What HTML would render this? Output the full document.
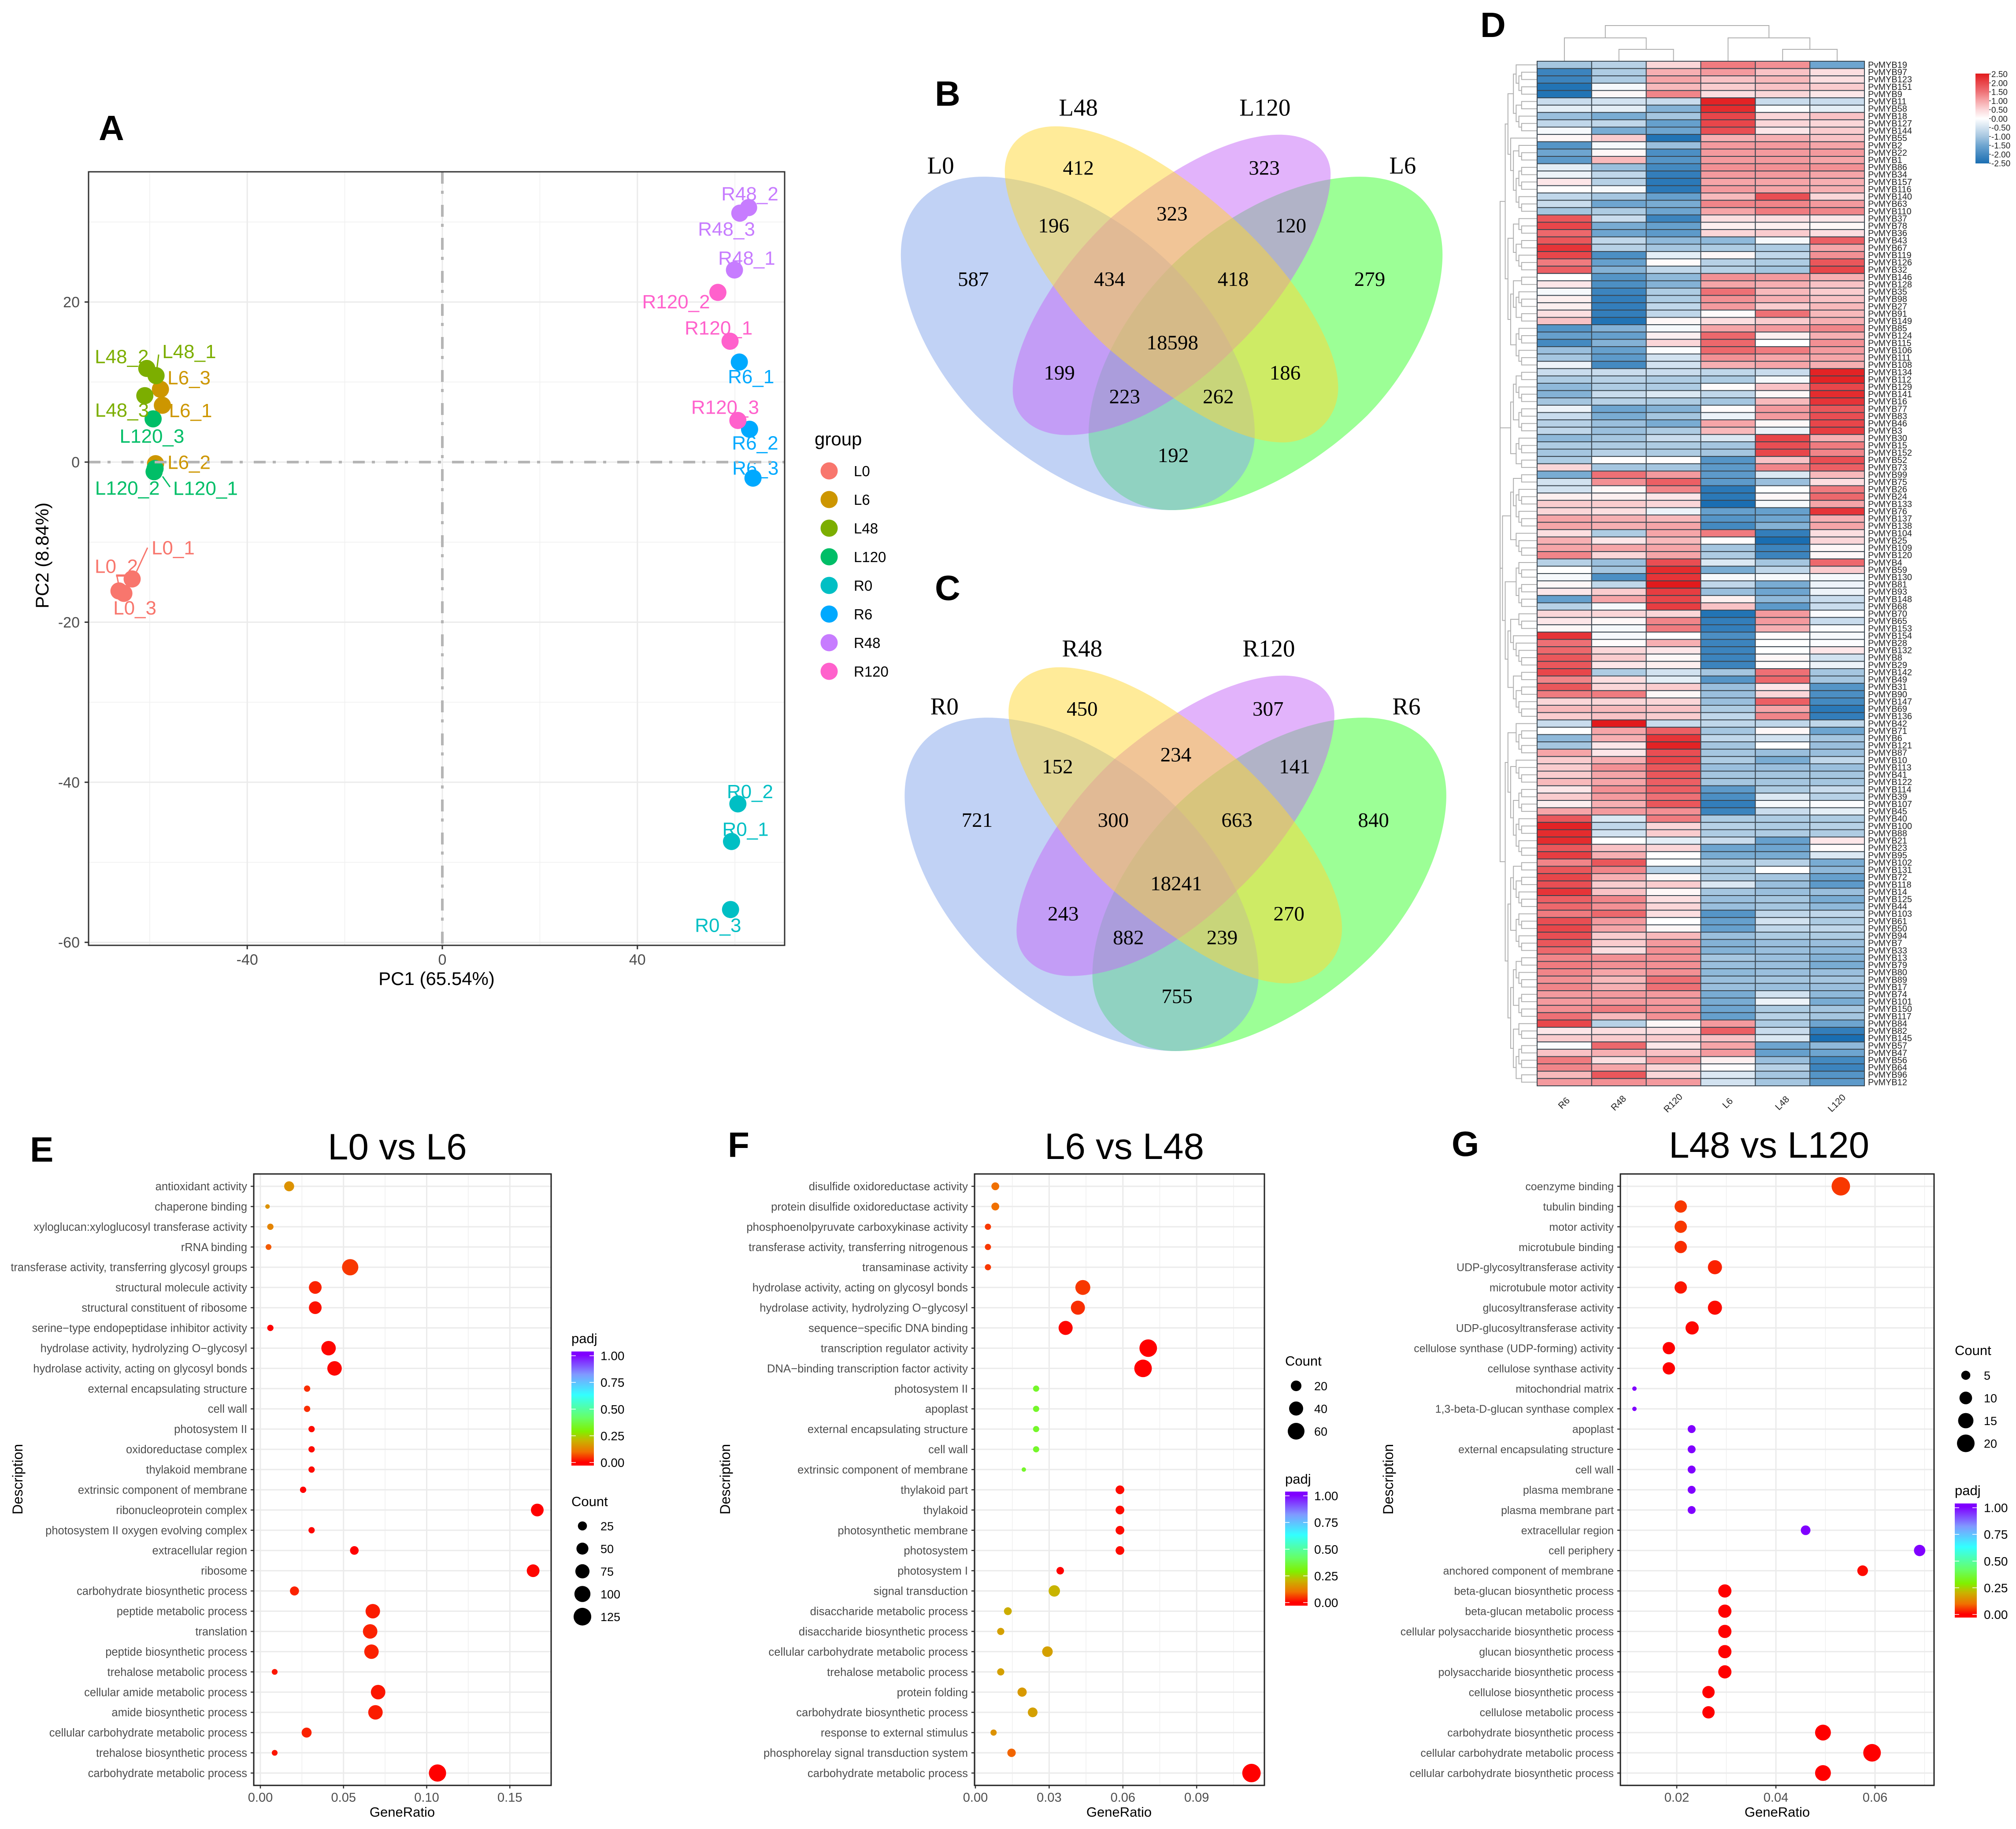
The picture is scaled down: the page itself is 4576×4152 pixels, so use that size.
<!DOCTYPE html>
<html lang="en">
<head>
<meta charset="utf-8">
<title>Transcriptome multi-panel figure</title>
<style>
html,body{margin:0;padding:0;background:#fff;}
svg{display:block;font-family:"Liberation Sans",sans-serif;}
</style>
</head>
<body>
<svg id="fig" xmlns="http://www.w3.org/2000/svg" width="4576" height="4152" viewBox="0 0 4576 4152">
<defs>
<linearGradient id="padjGrad" x1="0" y1="1" x2="0" y2="0">
<stop offset="0" stop-color="#ff0000"/><stop offset="0.03" stop-color="#ff0000"/><stop offset="0.12" stop-color="#f07000"/><stop offset="0.22" stop-color="#c8b400"/><stop offset="0.3" stop-color="#80f000"/><stop offset="0.42" stop-color="#66ff66"/><stop offset="0.62" stop-color="#33ffff"/><stop offset="0.8" stop-color="#8099ff"/><stop offset="0.97" stop-color="#8000ff"/><stop offset="1" stop-color="#8000ff"/>
</linearGradient>
<linearGradient id="heatGrad" x1="0" y1="1" x2="0" y2="0">
<stop offset="0" stop-color="#1a6eb2"/><stop offset="0.2" stop-color="#6ea5d0"/><stop offset="0.3" stop-color="#a5c6e0"/><stop offset="0.4" stop-color="#d2e2f0"/><stop offset="0.5" stop-color="#ffffff"/><stop offset="0.6" stop-color="#fbd6d8"/><stop offset="0.7" stop-color="#f6a5a8"/><stop offset="0.8" stop-color="#ee7075"/><stop offset="0.9" stop-color="#e8464a"/><stop offset="1" stop-color="#e21a1c"/>
</linearGradient>
</defs>
<text x="224" y="318" font-size="80" font-weight="bold">A</text>
<text x="2122" y="240" font-size="80" font-weight="bold">B</text>
<text x="2122" y="1362" font-size="80" font-weight="bold">C</text>
<text x="3360" y="84" font-size="80" font-weight="bold">D</text>
<text x="68" y="2637" font-size="80" font-weight="bold">E</text>
<text x="1652" y="2626" font-size="80" font-weight="bold">F</text>
<text x="3295" y="2624" font-size="80" font-weight="bold">G</text>
<text x="744" y="2632" font-size="83.5">L0 vs L6</text>
<text x="2371" y="2631" font-size="83.5">L6 vs L48</text>
<text x="3788" y="2628" font-size="83.5">L48 vs L120</text>
<g id="panelA"></g>
<g id="vennB"></g>
<g id="vennC"></g>
<g id="panelD"></g>
<g id="panelE"></g>
<g id="panelF"></g>
<g id="panelG"></g>
</svg>
<script>
/* ---------- PCA data ---------- */
const pcaSamples = ['L0_1','L0_2','L0_3','L6_1','L6_2','L6_3','L48_1','L48_2','L48_3','L120_1','L120_2','L120_3','R0_1','R0_2','R0_3','R6_1','R6_2','R6_3','R48_1','R48_2','R48_3','R120_1','R120_2','R120_3'];
const pcaPC1 = [-63.6,-66.3,-65.3,-57.4,-58.8,-57.8,-58.7,-60.6,-61,-58.9,-59.1,-59.3,59.3,60.6,59.1,60.9,63,63.7,59.9,62.8,61,59,56.5,60.6];
const pcaPC2 = [-14.6,-16.1,-16.4,7.1,-0.2,9.1,10.8,11.7,8.3,-0.8,-1.2,5.4,-47.4,-42.7,-55.9,12.5,4.1,-2,24,31.8,31.1,15.1,21.2,5.2];
const pcaGroups = ['L0','L6','L48','L120','R0','R6','R48','R120'];
const pcaXTicks = [-40,0,40];
const pcaYTicks = [-60,-40,-20,0,20];

/* ---------- Venn data ---------- */
const vennLNames = ['L0','L48','L120','L6'];
const vennLCounts = [587,412,323,279,196,323,120,434,418,18598,199,186,223,262,192];
const vennRNames = ['R0','R48','R120','R6'];
const vennRCounts = [721,450,307,840,152,234,141,300,663,18241,243,270,882,239,755];

/* ---------- Heatmap data ---------- */
const heatCols = ['R6','R48','R120','L6','L48','L120'];
const heatGenes = ['PvMYB19','PvMYB97','PvMYB123','PvMYB151','PvMYB9','PvMYB11','PvMYB58','PvMYB18','PvMYB127','PvMYB144','PvMYB55','PvMYB2','PvMYB22','PvMYB1','PvMYB86','PvMYB34','PvMYB157','PvMYB116','PvMYB140','PvMYB63','PvMYB110','PvMYB37','PvMYB78','PvMYB36','PvMYB43','PvMYB67','PvMYB119','PvMYB126','PvMYB32','PvMYB146','PvMYB128','PvMYB35','PvMYB98','PvMYB27','PvMYB91','PvMYB149','PvMYB85','PvMYB124','PvMYB115','PvMYB106','PvMYB111','PvMYB108','PvMYB134','PvMYB112','PvMYB129','PvMYB141','PvMYB16','PvMYB77','PvMYB83','PvMYB46','PvMYB3','PvMYB30','PvMYB15','PvMYB152','PvMYB52','PvMYB73','PvMYB99','PvMYB75','PvMYB26','PvMYB24','PvMYB133','PvMYB76','PvMYB137','PvMYB138','PvMYB104','PvMYB25','PvMYB109','PvMYB120','PvMYB4','PvMYB59','PvMYB130','PvMYB81','PvMYB93','PvMYB148','PvMYB68','PvMYB70','PvMYB65','PvMYB153','PvMYB154','PvMYB28','PvMYB132','PvMYB8','PvMYB29','PvMYB142','PvMYB49','PvMYB31','PvMYB90','PvMYB147','PvMYB69','PvMYB136','PvMYB42','PvMYB71','PvMYB6','PvMYB121','PvMYB87','PvMYB10','PvMYB113','PvMYB41','PvMYB122','PvMYB114','PvMYB39','PvMYB107','PvMYB45','PvMYB40','PvMYB100','PvMYB88','PvMYB21','PvMYB23','PvMYB95','PvMYB102','PvMYB131','PvMYB72','PvMYB118','PvMYB14','PvMYB125','PvMYB44','PvMYB103','PvMYB61','PvMYB50','PvMYB94','PvMYB7','PvMYB33','PvMYB13','PvMYB79','PvMYB80','PvMYB89','PvMYB17','PvMYB74','PvMYB101','PvMYB150','PvMYB117','PvMYB84','PvMYB82','PvMYB145','PvMYB57','PvMYB47','PvMYB56','PvMYB64','PvMYB96','PvMYB12'];
const heatValues = [
[-1,-.8,.5,1.4,1.2,-1.5],[-2.1,-.9,.9,1.1,.7,.4],[-2.1,-.9,1,.7,.8,.4],[-2.4,-.1,.8,.6,.7,.6],[-2.4,.1,1.3,.4,.5,.3],
[-.6,-.5,-.6,2.4,-.6,-.6],[-.3,-.3,-1.3,2.3,-.05,-.3],[-1.1,-1.4,-1,2,.5,.7],[-.7,-.7,-1.6,2,.5,.5],[-.1,-1.4,-1.5,1.9,.3,.6],
[.1,.6,-2.4,.9,.9,.7],[-1.8,-.1,-1.1,1.1,1.1,1],[-1.5,.1,-1.9,1.1,1.1,1.1],[-1.7,.8,-1.8,1.1,1.1,1],[-.3,-1.1,-2,1.2,1.2,1.2],
[-.2,-.7,-2.2,1.1,1.1,1],[.3,-.8,-2.3,1,1,.9],[.02,-.1,-2.3,1.1,1,.9],[-.7,-1,-1.6,.8,1.9,.5],[-.6,-1.5,-1.4,1.3,1.3,1.1],
[-1,-.9,-1.5,1,1.4,1.3],[1.8,-.6,-2.1,.4,.4,.3],[2,-1.4,-1.6,.2,.2,.1],[1.6,-1.5,-1.7,.5,.6,.4],[1.8,-.7,-1.2,-1.2,-.1,1.7],
[2.2,-.8,-1,-.9,-.9,1],[2,-1.9,-.3,.1,-.7,1.2],[1.4,-1.6,.05,-.8,-.9,1.8],[1.7,-1.3,-.7,-.8,-1,2],[0,-1.8,-1.2,1.2,1.1,.9],
[.3,-1.9,-1.3,1,.9,.7],[-.1,-2.1,-.9,1.5,.8,.6],[.2,-2.2,-.9,1.2,.9,.7],[.2,-2.2,-.7,1.1,.6,.8],[.4,-2.2,-.7,.05,1.5,.8],
[.7,-2.4,.1,.4,.6,.9],[-1.8,-1.3,-.1,1,1.1,1.3],[-1.6,-1.6,.2,1.6,.2,.9],[-2,-1.3,.5,1.6,0,1.2],[-1.1,-1.6,-.05,1.6,1.4,1.1],
[-1,-1.7,-.5,1.2,1,1],[-.2,-2,-.5,.9,1,.9],[-.6,-.6,-.6,-.7,-.6,2.4],[-.9,-.8,-.9,-.9,-.1,2.4],[-1.2,-.9,-.9,.05,.7,2],
[-1.3,-.6,-.4,-.7,.1,2.3],[-1,-.8,-.9,-1,.8,2.2],[-.2,-1.5,-1.3,.05,1.1,1.8],[-.6,-1.4,-1,-.2,1.1,1.9],[-.8,-1.1,-1.4,1,.1,2],
[-.7,-1.1,-.9,.8,-.2,2.1],[-1.2,-1,-.6,-.4,2,.9],[-.9,-.9,-.9,-1,1.9,1.4],[-1,-.8,-.9,-1,2,1.3],[-.9,.02,.02,-1.8,.7,1.9],
[.5,-1,-1,-1.7,1.3,1.7],[-1.4,1.5,1.1,-1.7,-.4,.8],[-.5,1.2,1.7,-1.7,-1.1,.4],[-.5,.1,1.3,-2.3,-.02,1.4],[.2,.2,.3,-2.3,.1,1.6],
[.6,.6,.5,-2.5,-.1,1],[.5,.4,-.2,-1.6,-1.6,2.2],[1,.9,.8,-1.8,-1.5,.9],[1,.9,1,-2,-1.3,1],[.4,-.9,1,1.4,-2.2,.4],
[.9,.3,.8,.02,-2.5,.5],[1,1,1,-1,-2.1,.1],[1.3,.5,1,-.9,-2.1,.1],[-.8,-1.1,1.9,-.4,-1,1.6],[0,-1,2.3,-1.4,-.7,.6],
[-.1,-1.9,2.2,-.1,-.1,-.1],[.1,-.7,2.5,-.7,-1.4,-.2],[.3,.6,2.1,-1.1,-1.5,-.2],[-1.6,1,2,.2,-1.2,-.6],[-.8,-.1,2.1,.7,-1.7,-.6],
[.5,.5,.5,-2.4,1.1,-.05],[.3,.1,1.3,-2.2,1.1,-.6],[.1,-.1,1.4,-2.2,.9,-.05],[2.2,-.1,0,-1.9,.05,-.1],[1.5,.05,.9,-2.1,0,-.05],
[1.6,.5,.3,-2.1,0,.3],[1.8,.6,.1,-2.1,.1,-.5],[1.8,.3,.2,-2.1,.05,-.2],[2,-.9,-.5,-1,1.5,-1],[1.3,.4,-.3,-1.8,1.6,-1],
[1.8,.5,.6,-1.1,.3,-1.8],[1.4,1.4,.1,-1.1,.5,-1.9],[.5,.5,.5,-1.1,1.7,-2],[.8,.8,.7,-.9,1,-2.3],[.6,.7,.6,-.7,1.3,-2.2],
[-.6,2.5,-.6,-.7,-.7,-.7],[0,1,1.7,-1,.1,-1.5],[-1.2,.9,2.2,-.7,-.5,-1],[-1,.3,2.4,-1,0,-1.1],[1,.3,1.9,-1,-1.1,-1.1],
[.6,.9,2,-.9,-1.4,-.7],[.6,1.2,1.8,-1.1,-1.1,-1.1],[.6,1,1.8,-1,-1,-1],[.8,1,1.7,-1,-1,-1],[.3,1.2,1.7,-1.7,-.9,-.6],
[.6,1.1,1.5,-1.9,-.4,-.8],[.2,.9,1.8,-2.2,-.1,-.05],[1,1.1,1.2,-2.1,-.6,-.3],[1.8,-.4,1.4,-.9,-.9,-.9],[2.4,-.7,.5,-.8,-.9,-.8],
[2.3,-.5,.6,-.9,-.9,-.9],[2.3,0,-.3,-.6,-1.6,.3],[1.8,.7,.5,-1.5,-1.5,.05],[2.1,.9,0,-1.4,-1.4,-.4],[1.3,1.8,-.02,-.8,-.8,-1.4],
[1.8,1.3,-.8,-1,0,-1.2],[2,.9,.1,-.9,-1,-1.6],[1.9,.6,.6,-.4,-1.1,-1.7],[2.2,.7,.1,-1,-1.1,-1.1],[1.7,1.3,.4,-1.1,-1,-1.4],
[1.6,1.2,.5,-1.1,-1,-1.2],[1.4,1.6,.4,-1.8,-.7,-.7],[1.9,1.1,0,-1.6,-.5,-.9],[2,1,.1,-1.6,-.7,-.7],[1.9,.6,.8,-1.1,-.9,-.9],
[1.8,.6,1.1,-1.3,-1.1,-1.1],[1.6,.4,1.2,-1.3,-1.1,-1.2],[1.3,1.2,1.2,-1,-1.1,-1.3],[1.4,1.2,1.2,-1.1,-1.1,-1.4],[1.3,1,1.2,-1.2,-1.1,-1.1],
[1.2,.8,1.5,-1.1,-1,-1],[1.3,.9,1.5,-1.1,-1.1,-1.1],[1.1,1.1,1.1,-1.4,-.5,-1.2],[1.1,1.1,1.1,-1.4,-.2,-1.4],[1.2,1.4,1.2,-1.5,-.9,-1],
[1.5,.8,1.2,-1.6,-.8,-1],[2,-.8,.1,1.1,-.9,-1.5],[.3,.4,.4,1.7,-.6,-2.2],[.6,.6,.6,.7,-.4,-2.5],[-.05,1.6,.3,1,-1.5,-1.2],
[.7,.9,.7,1.1,-1.6,-1.5],[1.4,.4,1.1,.2,-1.1,-2],[1.3,1,.5,.02,-.8,-2.1],[.8,1.8,.5,-.4,-1,-1.8],[1.1,1.2,1.1,-.5,-1,-1.7]
];
const heatLegendTicks = ['2.50','2.00','1.50','1.00','0.50','0.00','-0.50','-1.00','-1.50','-2.00','-2.50'];

/* ---------- Dot plot E data ---------- */
const eTerms = ['antioxidant activity','chaperone binding','xyloglucan:xyloglucosyl transferase activity','rRNA binding','transferase activity, transferring glycosyl groups','structural molecule activity','structural constituent of ribosome','serine\u2212type endopeptidase inhibitor activity','hydrolase activity, hydrolyzing O\u2212glycosyl','hydrolase activity, acting on glycosyl bonds','external encapsulating structure','cell wall','photosystem II','oxidoreductase complex','thylakoid membrane','extrinsic component of membrane','ribonucleoprotein complex','photosystem II oxygen evolving complex','extracellular region','ribosome','carbohydrate biosynthetic process','peptide metabolic process','translation','peptide biosynthetic process','trehalose metabolic process','cellular amide metabolic process','amide biosynthetic process','cellular carbohydrate metabolic process','trehalose biosynthetic process','carbohydrate metabolic process'];
const eRatio = [.0173,.0043,.006,.0049,.054,.033,.033,.006,.041,.0446,.0281,.0281,.0308,.0308,.0308,.0257,.1665,.0308,.0565,.164,.0205,.0676,.066,.0668,.0086,.0708,.0692,.0278,.0086,.1065];
const eCount = [32,3,9,7,104,58,58,9,79,79,9,9,9,9,9,9,58,9,22,58,25,79,79,79,7,79,79,32,7,118];
const ePadj = [.15,.15,.13,.08,.05,.03,.015,0,.005,.005,.04,.04,.01,.01,.01,0,0,.005,0,.005,.03,.025,.03,.03,.02,.02,.025,.03,.02,0];
const eTicks = [0,.05,.1,.15];
const eMinor = [.025,.075,.125];
const eCountLegend = [25,50,75,100,125];

/* ---------- Dot plot F data ---------- */
const fTerms = ['disulfide oxidoreductase activity','protein disulfide oxidoreductase activity','phosphoenolpyruvate carboxykinase activity','transferase activity, transferring nitrogenous','transaminase activity','hydrolase activity, acting on glycosyl bonds','hydrolase activity, hydrolyzing O\u2212glycosyl','sequence\u2212specific DNA binding','transcription regulator activity','DNA\u2212binding transcription factor activity','photosystem II','apoplast','external encapsulating structure','cell wall','extrinsic component of membrane','thylakoid part','thylakoid','photosynthetic membrane','photosystem','photosystem I','signal transduction','disaccharide metabolic process','disaccharide biosynthetic process','cellular carbohydrate metabolic process','trehalose metabolic process','protein folding','carbohydrate biosynthetic process','response to external stimulus','phosphorelay signal transduction system','carbohydrate metabolic process'];
const fRatio = [.0081,.0081,.0051,.0051,.0051,.0437,.0417,.0367,.0703,.0682,.0247,.0247,.0247,.0247,.0197,.0588,.0588,.0588,.0588,.0345,.0321,.0132,.0103,.0293,.0103,.019,.0233,.0074,.0147,.1123];
const fCount = [9,9,4.5,4.5,4.5,46,40,40,67,67,4.5,4.5,4.5,4.5,1.4,12,12,12,12,8,24,9,7,20,7,14,16,4.5,11,75];
const fPadj = [.1,.1,.05,.05,.05,.05,.04,.005,0,0,.33,.33,.33,.33,.33,.01,.01,.01,.01,0,.2,.19,.17,.17,.17,.16,.17,.15,.09,0];
const fTicks = [0,.03,.06,.09];
const fMinor = [.015,.045,.075,.105];
const fCountLegend = [20,40,60];

/* ---------- Dot plot G data ---------- */
const gTerms = ['coenzyme binding','tubulin binding','motor activity','microtubule binding','UDP-glycosyltransferase activity','microtubule motor activity','glucosyltransferase activity','UDP-glucosyltransferase activity','cellulose synthase (UDP-forming) activity','cellulose synthase activity','mitochondrial matrix','1,3-beta-D-glucan synthase complex','apoplast','external encapsulating structure','cell wall','plasma membrane','plasma membrane part','extracellular region','cell periphery','anchored component of membrane','beta-glucan biosynthetic process','beta-glucan metabolic process','cellular polysaccharide biosynthetic process','glucan biosynthetic process','polysaccharide biosynthetic process','cellulose biosynthetic process','cellulose metabolic process','carbohydrate biosynthetic process','cellular carbohydrate metabolic process','cellular carbohydrate biosynthetic process'];
const gRatio = [.0531,.0208,.0208,.0208,.0277,.0208,.0277,.0231,.0184,.0184,.01146,.01146,.023,.023,.023,.023,.023,.046,.069,.0575,.0297,.0297,.0297,.0297,.0297,.0264,.0264,.0495,.0594,.0495];
const gCount = [22,9.5,9.5,9.5,12.6,9.5,12.6,11,9.5,9.5,1,1,3.7,3.7,3.7,3.7,3.7,5.7,8,7,11,11,11,11,11,9.5,9.5,16,20,16];
const gPadj = [.05,.05,.05,.04,.03,.02,.01,.005,0,0,1,1,1,1,1,1,1,1,1,.01,0,0,0,0,0,0,0,0,0,0];
const gTicks = [.02,.04,.06];
const gMinor = [.01,.03,.05,.07];
const gCountLegend = [5,10,15,20];

const padjTicks = ['0.00','0.25','0.50','0.75','1.00'];

/* ---------- helpers ---------- */
const NS = 'http://www.w3.org/2000/svg';
function mk(parent, tag, attrs){
  const e = document.createElementNS(NS, tag);
  for(const k in attrs){ e.setAttribute(k, attrs[k]); }
  parent.appendChild(e);
  return e;
}
function tx(parent, x, y, str, size, fill, anchor, extra){
  const e = mk(parent, 'text', Object.assign({x:x, y:y, 'font-size':size, fill:fill||'#000', 'text-anchor':anchor||'start'}, extra||{}));
  e.textContent = str;
  return e;
}
function lerpStops(stops, v){
  if(v<=stops[0][0]) return stops[0][1];
  for(let i=1;i<stops.length;i++){
    if(v<=stops[i][0]){
      const a=stops[i-1], b=stops[i], t=(v-a[0])/(b[0]-a[0]);
      const c=[0,1,2].map(j=>Math.round(a[1][j]+(b[1][j]-a[1][j])*t));
      return c;
    }
  }
  return stops[stops.length-1][1];
}
const PADJ_STOPS=[[0,[255,0,0]],[.1,[240,112,0]],[.2,[200,180,0]],[.28,[128,240,0]],[.4,[102,255,102]],[.62,[51,255,255]],[.8,[128,153,255]],[1,[128,0,255]]];
const HEAT_STOPS=[[-2.5,[26,110,178]],[-1.5,[110,165,208]],[-1,[165,198,224]],[-.5,[210,226,240]],[0,[255,255,255]],[.5,[251,214,216]],[1,[246,165,168]],[1.5,[238,112,117]],[2,[232,70,74]],[2.5,[226,26,28]]];
function rgb(c){return 'rgb('+c[0]+','+c[1]+','+c[2]+')';}

/* ---------- Panel A ---------- */
(function(){
  const g=document.getElementById('panelA');
  const L=201,R=1781,T=390,B=2146;
  const xs=v=>1004+11.07*v, ys=v=>1049-18.17*v;
  const colors={L0:'#F8766D',L6:'#CD9600',L48:'#7CAE00',L120:'#00BE67',R0:'#00BFC4',R6:'#00A9FF',R48:'#C77CFF',R120:'#FF61CC'};
  const labelLayout={L0_1:[44,-56,[[10,-17],[35,-71]]],L0_2:[-55,-41,[[15,-36],[-5,-36],[-1,-16]]],L0_3:[-24,48],L6_1:[15,27],L6_2:[27,12],L6_3:[16,-11],L48_1:[14,-40,[[2,-16],[6,-48]]],L48_2:[-118,-12],L48_3:[-113,48],L120_1:[41,60,[[17,18],[34,42]]],L120_2:[-134,52],L120_3:[-76,54],R0_1:[-21,-13],R0_2:[-25,-13],R0_3:[-81,51],R6_1:[-26,48],R6_2:[-40,46],R6_3:[-47,-8],R48_1:[-37,-12],R48_2:[-62,-16],R48_3:[-95,51],R120_1:[-103,-15],R120_2:[-172,36],R120_3:[-106,-15]};
  const bg=mk(g,'rect',{x:L,y:T,width:R-L,height:B-T,fill:'#fff'});
  
  
  [-60,-20,20,60].forEach(v=>{
    if(xs(v)<L||xs(v)>R) return;
    const l=mk(g,'line',{x1:xs(v),x2:xs(v),y1:T,y2:B,stroke:'#efefef','stroke-width':1.5});
    
    
  });
  [-50,-30,-10,10,30].forEach(v=>{
    const l=mk(g,'line',{x1:L,x2:R,y1:ys(v),y2:ys(v),stroke:'#efefef','stroke-width':1.5});
    
    
  });
  pcaXTicks.forEach(v=>{
    const l=mk(g,'line',{x1:xs(v),x2:xs(v),y1:T,y2:B,stroke:'#ebebeb','stroke-width':3});
    
    
    const t=mk(g,'line',{x1:xs(v),x2:xs(v),y1:B,y2:B+9,stroke:'#333','stroke-width':3});
    
    
    const s=tx(g,xs(v),B+44,String(v),34,'#4d4d4d','middle');
    
    
  });
  pcaYTicks.forEach(v=>{
    const l=mk(g,'line',{x1:L,x2:R,y1:ys(v),y2:ys(v),stroke:'#ebebeb','stroke-width':3});
    
    
    const t=mk(g,'line',{x1:L-9,x2:L,y1:ys(v),y2:ys(v),stroke:'#333','stroke-width':3});
    
    
    const s=tx(g,L-20,ys(v)+12,String(v),34,'#4d4d4d','end');
    
    
  });
  const vz=mk(g,'line',{x1:xs(0),x2:xs(0),y1:T,y2:B,stroke:'#b5b5b5','stroke-width':6,'stroke-dasharray':'27 16 7 25'});
  
  
  pcaSamples.forEach((name,i)=>{
    const grp=name.split('_')[0], col=colors[grp];
    const cx=xs(pcaPC1[i]), cy=ys(pcaPC2[i]), lay=labelLayout[name];
    if(lay[2]){
      const pl=mk(g,'polyline',{points:lay[2].map(p=>(cx+p[0])+','+(cy+p[1])).join(' '),fill:'none',stroke:col,'stroke-width':3});
      
      
    }
  });
  pcaSamples.forEach((name,i)=>{
    const grp=name.split('_')[0], col=colors[grp];
    const c=mk(g,'circle',{cx:xs(pcaPC1[i]),cy:ys(pcaPC2[i]),r:19.5,fill:col});
    
    
  });
  pcaSamples.forEach((name,i)=>{
    const grp=name.split('_')[0], col=colors[grp], lay=labelLayout[name];
    const s=tx(g,xs(pcaPC1[i])+lay[0],ys(pcaPC2[i])+lay[1],name,44,col,'start');
    
    
  });
  const hz=mk(g,'line',{x1:L,x2:R,y1:ys(0),y2:ys(0),stroke:'#b5b5b5','stroke-width':6,'stroke-dasharray':'27 16 7 25'});
  
  
  const box=mk(g,'rect',{x:L,y:T,width:R-L,height:B-T,fill:'none',stroke:'#333','stroke-width':3});
  
  
  const xt=tx(g,991,2236,'PC1 (65.54%)',42,'#000','middle');
  
  
  const yt=tx(g,110,1261,'PC2 (8.84%)',42,'#000','middle',{transform:'rotate(-90 110 1261)'});
  
  
  const lt=tx(g,1849,1011,'group',42,'#000','start');
  
  
  pcaGroups.forEach((n,i)=>{
    const y=1069+65*i;
    const c=mk(g,'circle',{cx:1882,cy:y,r:19.5,fill:colors[n]});
    
    
    const s=tx(g,1938,y+12,n,33,'#000','start');
    
    
  });
})();

/* ---------- Panels B and C (Venn) ---------- */
function drawVenn(host, names, counts, ox, oy){
  const shapes=mk(host,'g',{transform:'translate('+(2000+ox)+','+(150+oy)+') scale(.861,.7015)'});
  const P={
    green:'M1262,358 C1102,358 912,470 766,645 C632,810 547,1020 547,1190 C547,1340 652,1437 766,1437 C932,1437 1132,1310 1282,1130 C1402,980 1480,770 1480,610 C1480,460 1402,358 1262,358 Z',
    blue:'M270,358 C430,358 620,470 766,645 C900,810 985,1020 985,1190 C985,1340 880,1437 766,1437 C600,1437 400,1310 250,1130 C130,980 52,770 52,610 C52,460 130,358 270,358 Z',
    purple:'M1050,222 C930,222 770,320 607,490 C450,670 347,900 347,1050 C347,1140 410,1194 490,1194 C620,1194 780,1100 930,915 C1090,730 1185,490 1185,350 C1185,270 1130,222 1050,222 Z',
    yellow:'M460,195 C600,195 770,320 925,490 C1090,670 1205,900 1205,1040 C1205,1150 1130,1218 1060,1218 C940,1218 780,1100 600,915 C450,750 326,490 326,340 C326,250 380,195 460,195 Z'
  };
  const cols={green:'#39ff2d',blue:'#83a5eb',purple:'#c567f7',yellow:'#ffd733'};
  ['green','blue','purple','yellow'].forEach(k=>{
    const p=mk(shapes,'path',{d:P[k],fill:cols[k],'fill-opacity':.5});
    
    
  });
  const X=z=>2000+ox+z*.861, Y=z=>150+oy+z*.7015;
  const family='"Liberation Serif",serif';
  const namePos=[[157,322],[520,135],[1012,135],[1375,322]];
  names.forEach((n,i)=>{
    const s=tx(host,X(namePos[i][0]),Y(namePos[i][1])+18,n,55,'#000','middle',{'font-family':family});
    
    
  });
  const numPos=[[243,690],[520,330],[1010,330],[1288,690],[455,517],[767,478],[1080,517],[602,690],[928,690],[768,895],[470,993],[1065,993],[642,1070],[889,1070],[770,1260]];
  counts.forEach((n,i)=>{
    const s=tx(host,X(numPos[i][0]),Y(numPos[i][1])+15,String(n),47,'#000','middle',{'font-family':family});
    
    
  });
}
drawVenn(document.getElementById('vennB'),vennLNames,vennLCounts,0,0);
drawVenn(document.getElementById('vennC'),vennRNames,vennRCounts,8.6,1228);

/* ---------- Panel D ---------- */
(function(){
  const g=document.getElementById('panelD');
  const L=3489,T=139,cw=123.83,rh=16.614;
  const n=heatGenes.length;
  const treeString='((((x((xx)(xx)))((xx)(x(xx))))(x((x(xx))(((xx)(xx))(x(xx))))))(((x(xx))((xx)(x(xx))))(((xx)((x(xx))(xx)))((x(xx))(x(xx))))))'
   +'|((((((xx)(x(xx)))((xx)(xx)))((x(xx))(xx)))'
   +'((((xx)((x(xx))(x(xx))))(x(x(xx))))(((x(xx))((xx)(xx)))(((x(xx))(x(x(x(xx)))))((xx)((xx)(x(xx))))))))'
   +'(((x((xx)(xx)))((x(x(xx)))(((xx)(xx))((x(xx))(x(xx))))))'
   +'((((xx)((xx)(x(xx))))((x(xx))(x(xx))))'
   +'((((xx)(x(xx)))((xx)(xx)))((x(xx))(((xx)(xx))(xx)))))))';
  function parse(s){
    let i=0;
    function node(){
      if(s[i]==='x'){i++;return null;}
      i++; const kids=[];
      while(s[i]!==')'){kids.push(node());}
      i++; return kids;
    }
    return node();
  }
  const parts=treeString.split('|');
  const tree=[parse(parts[0]),parse(parts[1])];
  let leaf=0;
  const dendro=mk(g,'g',{fill:'none',stroke:'#b0b0b0','stroke-width':2});
  
  
  function walk(t){
    if(t===null){const y=T+rh*(leaf+.5);leaf++;return {x:L,y:y,h:0};}
    const a=walk(t[0]), b=walk(t[1]);
    const h=Math.max(a.h,b.h)+1;
    const x=L-Math.min(84,29+6.2*h);
    const p=mk(dendro,'path',{d:'M'+a.x+','+a.y+'H'+x+'V'+b.y+'H'+b.x});
    
    
    return {x:x,y:(a.y+b.y)/2,h:h};
  }
  walk(tree);
  const colTree=mk(g,'path',{fill:'none',stroke:'#b0b0b0','stroke-width':2,d:(function(){
    const c=i=>L+cw*(i+.5), yr=58,y2=86,y3=112;
    const m23=(c(1)+c(2))/2, m56=(c(4)+c(5))/2, a=(c(0)+m23)/2, b=(c(3)+m56)/2;
    return 'M'+c(1)+','+T+'V'+y3+'H'+c(2)+'V'+T+'M'+c(4)+','+T+'V'+y3+'H'+c(5)+'V'+T+
      'M'+c(0)+','+T+'V'+y2+'H'+m23+'V'+y3+'M'+c(3)+','+T+'V'+y2+'H'+m56+'V'+y3+
      'M'+a+','+y2+'V'+yr+'H'+b+'V'+y2;
  })()});
  
  
  heatValues.forEach((row,r)=>{
    row.forEach((v,c)=>{
      const cell=mk(g,'rect',{x:L+c*cw,y:T+r*rh,width:cw,height:rh,fill:rgb(lerpStops(HEAT_STOPS,v)),stroke:'#3a4650','stroke-width':2});
      
      
    });
    const s=tx(g,4240,T+r*rh+15,heatGenes[r],20,'#222','start');
    
    
  });
  heatCols.forEach((name,i)=>{
    const x=L+cw*(i+.5)+4, y=T+n*rh+44;
    const s=tx(g,x,y,name,21,'#222','middle',{transform:'rotate(-45 '+x+' '+y+')'});
    
    
  });
  const bar=mk(g,'rect',{x:4484,y:167,width:31,height:204,fill:'url(#heatGrad)'});
  
  
  heatLegendTicks.forEach((t,i)=>{
    const y=168+i*20.25;
    const tk=mk(g,'line',{x1:4515,x2:4519,y1:y,y2:y,stroke:'#444','stroke-width':1.5});
    
    
    const s=tx(g,4520,y+7,t,19,'#222','start');
    
    
  });
})();

/* ---------- Dot plots ---------- */
function drawDot(g,terms,ratio,count,padj,ticks,minor,cfg){
  const T=2665,B=4053,y0=2693,dy=45.93;
  const xs=cfg.xs, rs=cfg.rs;
  minor.forEach(v=>{
    const l=mk(g,'line',{x1:xs(v),x2:xs(v),y1:T,y2:B,stroke:'#efefef','stroke-width':1.5});
    
    
  });
  ticks.forEach(v=>{
    const l=mk(g,'line',{x1:xs(v),x2:xs(v),y1:T,y2:B,stroke:'#ebebeb','stroke-width':3});
    
    
    const t=mk(g,'line',{x1:xs(v),x2:xs(v),y1:B,y2:B+7,stroke:'#333','stroke-width':2.5});
    
    
    const s=tx(g,xs(v),4090,v.toFixed(2),29,'#4d4d4d','middle');
    
    
  });
  terms.forEach((term,i)=>{
    const y=y0+i*dy;
    const l=mk(g,'line',{x1:cfg.L,x2:cfg.R,y1:y,y2:y,stroke:'#ebebeb','stroke-width':3});
    
    
    const t=mk(g,'line',{x1:cfg.L-7,x2:cfg.L,y1:y,y2:y,stroke:'#333','stroke-width':2.5});
    
    
    const s=tx(g,cfg.L-15,y+9,term,cfg.labelSize,'#4d4d4d','end');
    
    
  });
  terms.forEach((term,i)=>{
    const c=mk(g,'circle',{cx:xs(ratio[i]),cy:y0+i*dy,r:rs(count[i]),fill:rgb(lerpStops(PADJ_STOPS,padj[i]))});
    
    
  });
  const box=mk(g,'rect',{x:cfg.L,y:T,width:cfg.R-cfg.L,height:B-T,fill:'none',stroke:'#222','stroke-width':3});
  
  
  const xt=tx(g,cfg.xTitleX,4124,'GeneRatio',31,'#000','middle');
  
  
  const yt=tx(g,cfg.yTitleX,3358,'Description',32,'#000','middle',{transform:'rotate(-90 '+cfg.yTitleX+' 3358)'});
  
  
  /* padj legend */
  const pt=tx(g,cfg.legX,cfg.padjTitleY,'padj',31,'#000','start');
  
  
  const bar=mk(g,'rect',{x:cfg.legX,y:cfg.barY,width:cfg.barW,height:259,fill:'url(#padjGrad)'});
  
  
  padjTicks.forEach((t,i)=>{
    const y=cfg.barY+252-i*60.6;
    const a=mk(g,'line',{x1:cfg.legX,x2:cfg.legX+10,y1:y,y2:y,stroke:'#fff','stroke-width':1.5});
    
    
    const b=mk(g,'line',{x1:cfg.legX+cfg.barW-10,x2:cfg.legX+cfg.barW,y1:y,y2:y,stroke:'#fff','stroke-width':1.5});
    
    
    const s=tx(g,cfg.legTextX,y+10,t,28,'#000','start');
    
    
  });
  /* count legend */
  const ct=tx(g,cfg.legX,cfg.countTitleY,'Count',31,'#000','start');
  
  
  cfg.countLegend.forEach((v,i)=>{
    const y=cfg.countY+i*51.5;
    const c=mk(g,'circle',{cx:cfg.countCx,cy:y,r:rs(v),fill:'#000'});
    
    
    const s=tx(g,cfg.legTextX,y+10,String(v),27,'#000','start');
    
    
  });
}
drawDot(document.getElementById('panelE'),eTerms,eRatio,eCount,ePadj,eTicks,eMinor,{
  L:576,R:1251,xs:v=>591+3775*v,rs:c=>2.4+1.58*Math.sqrt(c),labelSize:25.5,xTitleX:913,yTitleX:51,
  legX:1297,barW:51,barY:3068,padjTitleY:3049,legTextX:1363,countTitleY:3419,countCx:1322,countY:3464,countLegend:eCountLegend});
drawDot(document.getElementById('panelF'),fTerms,fRatio,fCount,fPadj,fTicks,fMinor,{
  L:2212,R:2870,xs:v=>2214+5580*v,rs:c=>2.5+2.13*Math.sqrt(c),labelSize:25.7,xTitleX:2540,yTitleX:1657,
  legX:2917,barW:51,barY:3386,padjTitleY:3368,legTextX:2983,countTitleY:3100,countCx:2942,countY:3146,countLegend:fCountLegend});
drawDot(document.getElementById('panelG'),gTerms,gRatio,gCount,gPadj,gTicks,gMinor,{
  L:3678,R:4390,xs:v=>3806+11250*(v-.02),rs:c=>.68+4.32*Math.sqrt(c),labelSize:24.9,xTitleX:4034,yTitleX:3162,
  legX:4437,barW:50,barY:3413,padjTitleY:3394,legTextX:4503,countTitleY:3076,countCx:4462,countY:3122,countLegend:gCountLegend});
</script>
</body>
</html>
